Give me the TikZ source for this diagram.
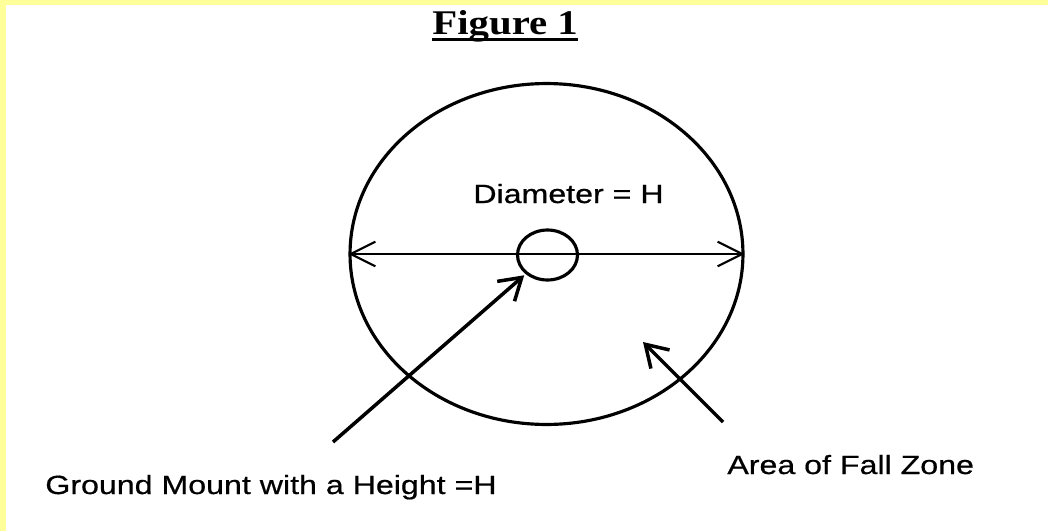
\documentclass[tikz,border=0pt]{standalone}
\usepackage{fontspec}
\newfontfamily\labelfont{Liberation Sans}[FakeStretch=1.22, FakeBold=0.6]
\newfontfamily\titlefont{Liberation Serif}[FakeStretch=1.18]
\usepackage{tikz}
\usetikzlibrary{arrows.meta, positioning, calc, shapes.geometric}
\definecolor{pageyellow}{RGB}{255,255,153}

\begin{document}
\begin{tikzpicture}[x=0.02cm, y=-0.02cm,
    label/.style={font=\labelfont\fontsize{15pt}{18pt}\selectfont, inner sep=0pt},
    pointer/.style={line width=2pt, -{Straight Barb[length=12pt, width=15pt, line width=2pt]}},
    span/.style={line width=1.2pt, {Straight Barb[length=14pt, width=14pt, line width=1.2pt]}-{Straight Barb[length=14pt, width=14pt, line width=1.2pt]}}]
  \useasboundingbox (0,0) rectangle (1048,531);
  % page
  \fill[pageyellow] (0,0) rectangle (1048,531);
  \fill[white] (6,5) rectangle (1048,531);
  % title
  \node[anchor=base west, inner sep=0pt, font=\titlefont\bfseries\fontsize{19.7pt}{22pt}\selectfont] (title) at (432,34) {Figure 1};
  \draw[line width=1.7pt] ([yshift=-3.4pt]title.base west) -- ([yshift=-3.4pt]title.base east);
  % fall zone and mount
  \node[draw, ellipse, line width=1.8pt, minimum width=7.86cm, minimum height=6.82cm, inner sep=0pt] (zone) at (546.5,254) {};
  \node[draw, ellipse, line width=1.8pt, minimum width=1.2cm, minimum height=1cm, inner sep=0pt] (mount) at (547.5,255) {};
  % diameter
  \draw[span] (zone.west) -- (zone.east);
  \node[label, anchor=base west] (diam) at (473,203) {Diameter = H};
  % pointers
  \coordinate (gtail) at (333,442);
  \coordinate (ftail) at (723,422);
  \coordinate (fhead) at (643,342);
  \draw[pointer, shorten >=1pt] (gtail) -- (mount);
  \draw[pointer] (ftail) -- (fhead);
  \node[label, anchor=base west] (ground) at (45,494) {Ground Mount with a Height =H};
  \node[label, anchor=base west] (fall) at (727,474) {Area of Fall Zone};
\end{tikzpicture}
\end{document}
